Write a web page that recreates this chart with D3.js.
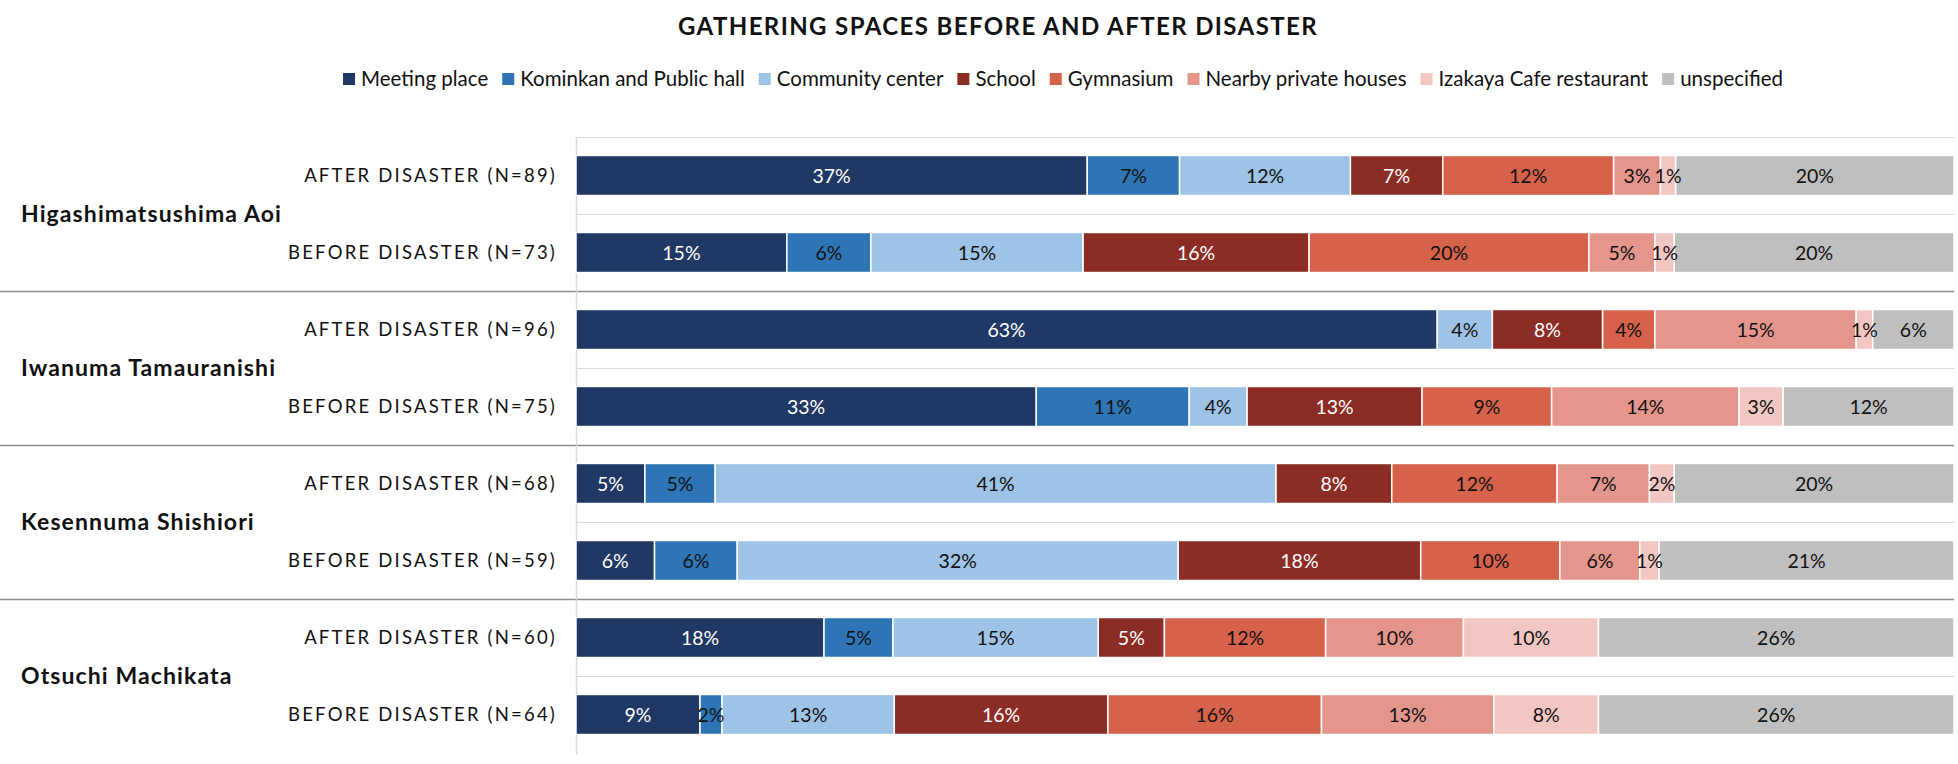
<!DOCTYPE html>
<html>
<head>
<meta charset="utf-8">
<script src="https://cdn.jsdelivr.net/npm/d3@7"></script>
<style>
  html, body { margin: 0; padding: 0; background: #fff; }
  svg { display: block; font-family: Lato, "Open Sans", sans-serif; }
</style>
</head>
<body>
<svg id="chart" width="1958" height="764"></svg>
<script>
// ---- data ----
const title = "GATHERING SPACES BEFORE AND AFTER DISASTER";
const groups = ["Higashimatsushima Aoi", "Iwanuma Tamauranishi", "Kesennuma Shishiori", "Otsuchi Machikata"];
const rowLabels = [
  "AFTER DISASTER (N=89)", "BEFORE DISASTER (N=73)",
  "AFTER DISASTER (N=96)", "BEFORE DISASTER (N=75)",
  "AFTER DISASTER (N=68)", "BEFORE DISASTER (N=59)",
  "AFTER DISASTER (N=60)", "BEFORE DISASTER (N=64)"
];
const categories = ["Meeting place", "Kominkan and Public hall", "Community center", "School",
  "Gymnasium", "Nearby private houses", "Izakaya Cafe restaurant", "unspecified"];
const meetingPlace   = [37.1, 15.3, 62.5, 33.4, 5.0, 5.7, 18.0, 9.0];
const kominkan       = [6.7, 6.1, 0, 11.1, 5.1, 6.0, 5.0, 1.6];
const communityCtr   = [12.4, 15.4, 4.0, 4.2, 40.7, 32.0, 14.9, 12.5];
const school         = [6.7, 16.4, 8.0, 12.7, 8.4, 17.6, 4.8, 15.5];
const gymnasium      = [12.4, 20.3, 3.8, 9.4, 12.0, 10.1, 11.7, 15.5];
const nearbyHouses   = [3.4, 4.8, 14.6, 13.6, 6.7, 5.8, 10.0, 12.5];
const izakaya        = [1.1, 1.4, 1.2, 3.2, 1.8, 1.4, 9.8, 7.6];
const unspecified    = [20.2, 20.3, 5.9, 12.4, 20.3, 21.4, 25.8, 25.8];
const seriesValues = [meetingPlace, kominkan, communityCtr, school, gymnasium, nearbyHouses, izakaya, unspecified];

// ---- styles ----
const colors = ["#203864", "#2e75b6", "#9dc3e6", "#8b2d24", "#d6624b", "#e5968c", "#f2c6c2", "#bfbfbf"];
const textColors = ["#ffffff", "#111111", "#111111", "#ffffff", "#111111", "#111111", "#111111", "#111111"];

const svg = d3.select("#chart");

const rows = rowLabels.map((lab, i) => {
  const o = { id: i, label: lab };
  categories.forEach((c, k) => { o[c] = seriesValues[k][i]; });
  return o;
});

const x = d3.scaleLinear().domain([0, 100]).range([576, 1954]);
const y = d3.scaleBand().domain(rows.map(r => r.id)).range([137, 753])
  .paddingInner(0.48).paddingOuter(0.24);
const step = y.step();
const rowTop = i => y(i) - y.paddingOuter() * step;

// gridlines between rows
const gridYs = d3.range(rows.length + 1).map(i => 137 + i * step);
svg.append("g").selectAll("line").data(gridYs.filter((d, i) => i % 2 === 1 || i === 0))
  .join("line")
  .attr("x1", 576).attr("x2", 1954)
  .attr("y1", d => Math.round(d) + 0.5).attr("y2", d => Math.round(d) + 0.5)
  .attr("stroke", "#d9d9d9").attr("stroke-width", 1);

// group separators
svg.append("g").selectAll("line").data([2, 4, 6].map(i => gridYs[i]))
  .join("line")
  .attr("x1", 0).attr("x2", 1954)
  .attr("y1", d => Math.round(d) + 0.5).attr("y2", d => Math.round(d) + 0.5)
  .attr("stroke", "#8c8c8c").attr("stroke-width", 1.5);

// vertical axis line
svg.append("line")
  .attr("x1", 576.5).attr("x2", 576.5).attr("y1", 137).attr("y2", 755)
  .attr("stroke", "#d9d9d9").attr("stroke-width", 1.5);

// bars
const stacked = d3.stack().keys(categories)(rows);
const layer = svg.append("g").selectAll("g").data(stacked).join("g")
  .attr("fill", (d, i) => colors[i]);
layer.selectAll("rect").data(d => d.filter(s => s[1] - s[0] > 0)).join("rect")
  .attr("x", d => x(d[0]))
  .attr("width", d => x(d[1]) - x(d[0]))
  .attr("y", d => y(d.data.id))
  .attr("height", y.bandwidth())
  .attr("stroke", "#ffffff").attr("stroke-width", 1.5);

// value labels
const lab = svg.append("g").selectAll("g").data(stacked).join("g")
  .attr("fill", (d, i) => textColors[i]);
lab.selectAll("text")
  .data(d => d.filter(s => s.data[d.key] > 0).map(s => ({ s, v: s.data[d.key] })))
  .join("text")
  .attr("x", d => (x(d.s[0]) + x(d.s[1])) / 2)
  .attr("y", d => y(d.s.data.id) + y.bandwidth() / 2)
  .attr("dy", "0.36em")
  .attr("text-anchor", "middle")
  .attr("font-size", 19.5)
  .text(d => Math.round(d.v) + "%");

// row labels
svg.append("g").selectAll("text").data(rows).join("text")
  .attr("x", 557)
  .attr("y", d => y(d.id) + y.bandwidth() / 2)
  .attr("dy", "0.36em")
  .attr("text-anchor", "end")
  .attr("font-size", 18.5)
  .attr("letter-spacing", 2.2)
  .attr("fill", "#111")
  .text(d => d.label);

// group labels
svg.append("g").selectAll("text").data(groups).join("text")
  .attr("x", 21)
  .attr("y", (d, i) => rowTop(2 * i) + step)
  .attr("dy", "0.36em")
  .attr("font-size", 23)
  .attr("font-weight", "bold")
  .attr("letter-spacing", 1.1)
  .attr("fill", "#111")
  .text(d => d);

// title
svg.append("text")
  .attr("x", 998).attr("y", 26).attr("dy", "0.36em")
  .attr("text-anchor", "middle")
  .attr("font-size", 24)
  .attr("font-weight", "bold")
  .attr("letter-spacing", 1.4)
  .attr("fill", "#111")
  .text(title);

// legend
const legend = svg.append("g");
const items = legend.selectAll("g").data(categories).join("g");
items.append("rect").attr("width", 12).attr("height", 12).attr("y", -6)
  .attr("fill", (d, i) => colors[i]);
items.append("text").attr("x", 18).attr("dy", "0.36em")
  .attr("font-size", 20.5).attr("fill", "#111").text(d => d);
let cx = 0;
const pos = [];
items.each(function () {
  const w = this.querySelector("text").getComputedTextLength() + 18;
  pos.push(cx);
  cx += w + 14;
});
const totalW = cx - 14;
const startX = 1063 - totalW / 2;
items.attr("transform", (d, i) => `translate(${startX + pos[i]},79)`);
</script>
</body>
</html>
